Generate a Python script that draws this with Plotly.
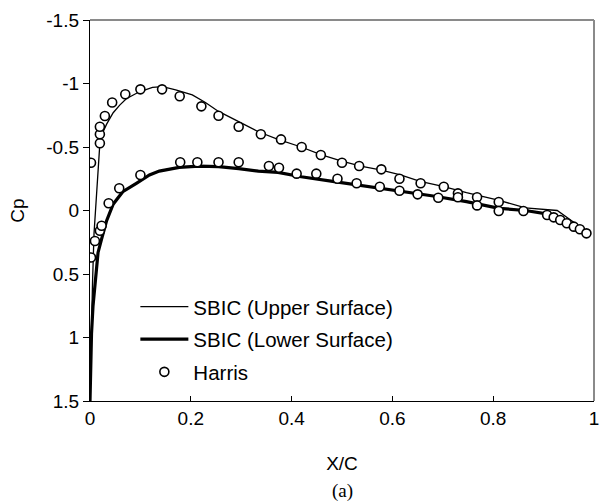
import plotly.graph_objects as go

# SBIC upper surface (x/c, Cp)
upper_x = [0.0, 0.002, 0.005, 0.008, 0.012, 0.016, 0.0196, 0.026, 0.033, 0.046, 0.059, 0.072,
           0.098, 0.124, 0.144, 0.170, 0.203, 0.229, 0.255, 0.295, 0.334, 0.373, 0.419, 0.458,
           0.498, 0.537, 0.576, 0.616, 0.655, 0.700, 0.747, 0.812, 0.864, 0.927, 0.959, 0.992]
upper_cp = [1.5, 1.02, 0.57, 0.18, -0.08, -0.35, -0.53, -0.62, -0.68, -0.77, -0.83, -0.88,
            -0.935, -0.97, -0.975, -0.95, -0.91, -0.85, -0.78, -0.70, -0.62, -0.56, -0.50, -0.44,
            -0.39, -0.35, -0.32, -0.28, -0.23, -0.19, -0.14, -0.08, -0.02, 0.0, 0.09, 0.20]

# SBIC lower surface (x/c, Cp)
lower_x = [0.0, 0.003, 0.006, 0.010, 0.016, 0.024, 0.033, 0.046, 0.065, 0.092, 0.118, 0.1375,
           0.177, 0.216, 0.255, 0.295, 0.334, 0.373, 0.419, 0.485, 0.550, 0.616, 0.681, 0.747,
           0.812, 0.864, 0.904, 0.912]
lower_cp = [1.5, 0.97, 0.75, 0.57, 0.33, 0.21, 0.08, -0.05, -0.148, -0.214, -0.28, -0.31,
            -0.34, -0.35, -0.345, -0.33, -0.31, -0.30, -0.266, -0.227, -0.19, -0.148, -0.114, -0.07,
            -0.017, 0.0, 0.02, 0.03]

# Harris experimental data
harris_up_x = [0.002, 0.0196, 0.0196, 0.0196, 0.0295, 0.044, 0.070, 0.100, 0.143, 0.178, 0.221,
               0.255, 0.295, 0.339, 0.379, 0.420, 0.458, 0.500, 0.534, 0.578, 0.614, 0.656,
               0.702, 0.730, 0.768, 0.811, 0.907, 0.920, 0.933, 0.946, 0.960, 0.972, 0.985]
harris_up_cp = [-0.376, -0.53, -0.60, -0.66, -0.744, -0.85, -0.915, -0.954, -0.954, -0.90, -0.82,
                -0.746, -0.66, -0.60, -0.56, -0.50, -0.437, -0.376, -0.35, -0.324, -0.25, -0.214,
                -0.187, -0.135, -0.104, -0.067, 0.035, 0.054, 0.075, 0.10, 0.127, 0.148, 0.18]
harris_lo_x = [0.002, 0.0098, 0.0196, 0.023, 0.037, 0.058, 0.100, 0.179, 0.213, 0.255, 0.295,
               0.355, 0.375, 0.410, 0.449, 0.491, 0.529, 0.575, 0.614, 0.650, 0.691, 0.730,
               0.768, 0.811, 0.860]
harris_lo_cp = [0.37, 0.24, 0.16, 0.12, -0.057, -0.175, -0.28, -0.38, -0.38, -0.38, -0.38,
                -0.35, -0.337, -0.29, -0.29, -0.25, -0.214, -0.187, -0.156, -0.127, -0.10, -0.104,
                -0.04, 0.004, 0.004]

x_ticks = [0, 0.2, 0.4, 0.6, 0.8, 1]
x_tick_labels = ["0", "0.2", "0.4", "0.6", "0.8", "1"]
y_ticks = [-1.5, -1, -0.5, 0, 0.5, 1, 1.5]
y_tick_labels = ["-1.5", "-1", "-0.5", "0", "0.5", "1", "1.5"]

FONT = "Liberation Sans, Arial, sans-serif"

fig = go.Figure()
fig.add_trace(go.Scatter(x=upper_x, y=upper_cp, mode="lines", name="SBIC (Upper Surface)",
                         line=dict(color="black", width=1.3), legendgroup="a"))
fig.add_trace(go.Scatter(x=lower_x, y=lower_cp, mode="lines", name="SBIC (Lower Surface)",
                         line=dict(color="black", width=3.2), legendgroup="b"))
fig.add_trace(go.Scatter(x=harris_up_x + harris_lo_x, y=harris_up_cp + harris_lo_cp,
                         mode="markers", name="Harris", legendgroup="c",
                         marker=dict(symbol="circle", size=9, color="white",
                                     line=dict(color="black", width=1.6))))

fig.update_layout(
    width=603, height=504,
    margin=dict(l=90, r=4, t=20, b=103),
    paper_bgcolor="white", plot_bgcolor="white",
    font=dict(family=FONT, size=19, color="black"),
    showlegend=True,
    legend=dict(x=0.09, y=0.30, xanchor="left", yanchor="top",
                bgcolor="rgba(0,0,0,0)", font=dict(size=20.5, family=FONT),
                tracegroupgap=3, itemsizing="trace", itemwidth=48),
    xaxis=dict(range=[0, 1], tickvals=x_ticks, ticktext=x_tick_labels,
               ticks="inside", ticklen=5, tickcolor="black", showgrid=False,
               zeroline=False, showline=True, linecolor="black", linewidth=1.3,
               ticklabeloverflow="allow",
               title=dict(text="X/C", standoff=28, font=dict(size=19))),
    yaxis=dict(range=[1.5, -1.5], tickvals=y_ticks, ticktext=y_tick_labels,
               ticks="outside", ticklen=6, tickcolor="black", showgrid=False,
               zeroline=False, showline=True, linecolor="black", linewidth=1.3,
               title=dict(text="Cp", standoff=16, font=dict(size=19))),
    shapes=[
        dict(type="line", xref="paper", yref="paper", x0=0, x1=1, y0=1, y1=1,
             line=dict(color="#8a8a8a", width=2)),
        dict(type="line", xref="paper", yref="paper", x0=1, x1=1, y0=0, y1=1,
             line=dict(color="#8a8a8a", width=2)),
    ],
    annotations=[
        dict(text="(a)", xref="paper", yref="paper", x=0.5, y=-0.236,
             xanchor="center", yanchor="middle", showarrow=False,
             font=dict(family="Liberation Serif, Times New Roman, serif", size=19))
    ],
)

fig.write_html("out.html")
